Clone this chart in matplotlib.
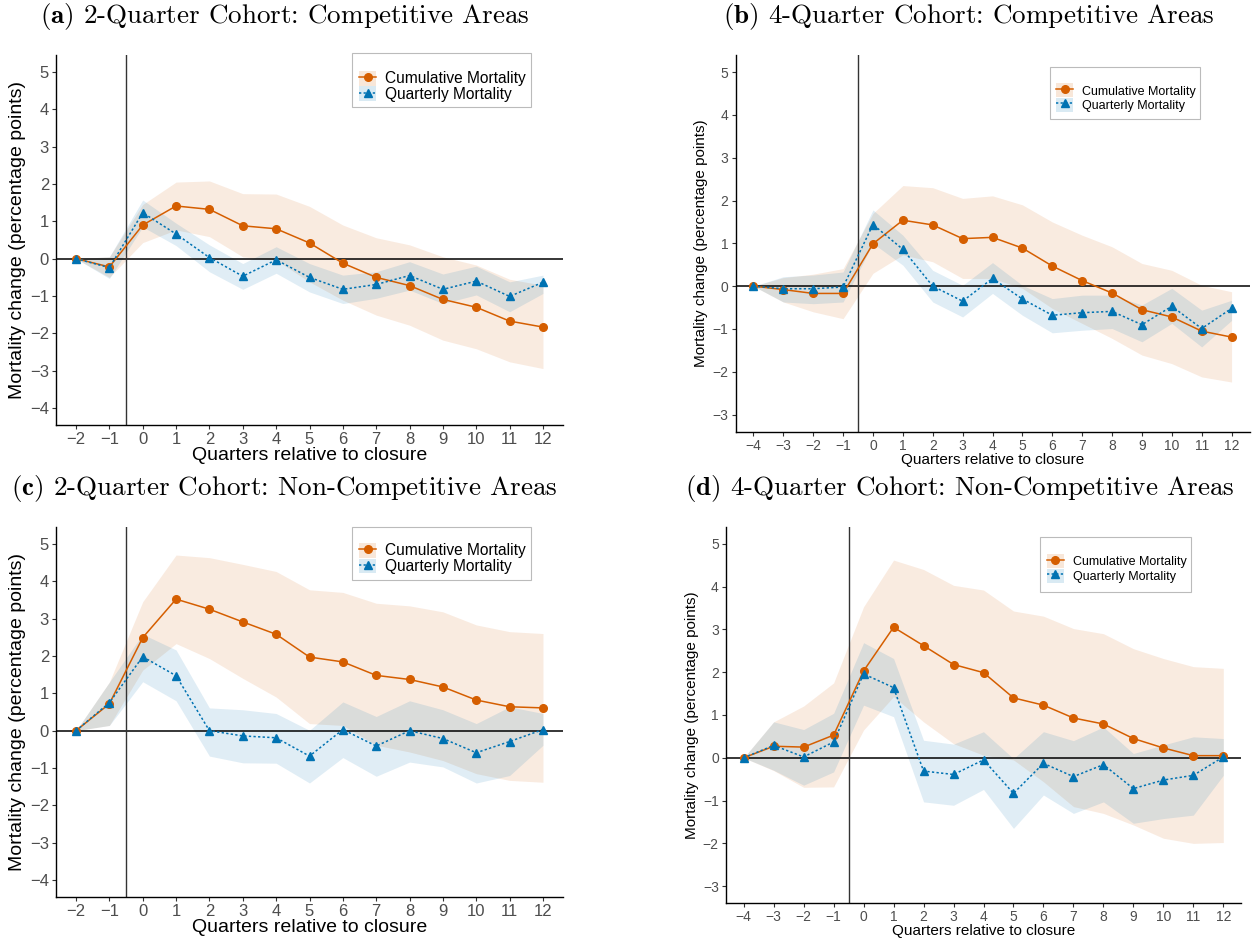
import matplotlib
matplotlib.use("Agg")
import matplotlib.pyplot as plt
from matplotlib.patches import Patch, Rectangle
from matplotlib.lines import Line2D

# --------- data -----------------------------------
x2 = [-2, -1, 0, 1, 2, 3, 4, 5, 6, 7, 8, 9, 10, 11, 12]
x4 = [-4, -3, -2, -1, 0, 1, 2, 3, 4, 5, 6, 7, 8, 9, 10, 11, 12]

# (a) 2-quarter cohort, competitive
cum_a    = [0, -0.22, 0.90, 1.41, 1.32, 0.88, 0.80, 0.42, -0.12, -0.50, -0.72, -1.09, -1.30, -1.67, -1.83]
cum_a_hi = [0, 0.05, 1.45, 2.05, 2.08, 1.74, 1.73, 1.40, 0.90, 0.56, 0.37, 0.05, -0.17, -0.55, -0.71]
cum_a_lo = [0, -0.50, 0.43, 0.77, 0.59, 0.05, -0.04, -0.62, -1.11, -1.51, -1.78, -2.18, -2.41, -2.76, -2.94]
qtr_a    = [0, -0.24, 1.23, 0.66, 0.03, -0.47, -0.03, -0.50, -0.82, -0.69, -0.45, -0.82, -0.60, -1.01, -0.63]
qtr_a_hi = [0, 0.05, 1.57, 0.95, 0.37, -0.13, 0.32, -0.13, -0.44, -0.35, -0.08, -0.41, -0.20, -0.62, -0.44]
qtr_a_lo = [0, -0.53, 0.85, 0.35, -0.35, -0.82, -0.39, -0.89, -1.20, -1.06, -0.84, -1.20, -0.97, -1.42, -0.93]

# (b) 4-quarter cohort, competitive
cum_b    = [0, -0.08, -0.17, -0.17, 0.99, 1.54, 1.43, 1.11, 1.14, 0.89, 0.47, 0.13, -0.16, -0.55, -0.72, -1.05, -1.19]
cum_b_hi = [0, 0.20, 0.28, 0.41, 1.70, 2.35, 2.30, 2.05, 2.11, 1.90, 1.50, 1.19, 0.92, 0.53, 0.37, 0.02, -0.13]
cum_b_lo = [0, -0.37, -0.60, -0.76, 0.30, 0.73, 0.57, 0.18, 0.18, -0.05, -0.52, -0.87, -1.22, -1.61, -1.81, -2.12, -2.24]
qtr_b    = [0, -0.06, -0.06, -0.02, 1.44, 0.86, 0.00, -0.35, 0.18, -0.30, -0.68, -0.62, -0.59, -0.90, -0.47, -0.99, -0.52]
qtr_b_hi = [0, 0.22, 0.26, 0.33, 1.78, 1.19, 0.37, 0.02, 0.55, 0.02, -0.29, -0.21, -0.21, -0.44, -0.05, -0.56, -0.33]
qtr_b_lo = [0, -0.37, -0.41, -0.37, 1.00, 0.49, -0.37, -0.72, -0.17, -0.68, -1.09, -1.03, -0.99, -1.30, -0.87, -1.42, -0.80]

# (c) 2-quarter cohort, non-competitive
cum_c    = [0, 0.72, 2.49, 3.52, 3.25, 2.91, 2.58, 1.97, 1.84, 1.48, 1.37, 1.17, 0.82, 0.64, 0.61]
cum_c_hi = [0, 1.30, 3.45, 4.70, 4.63, 4.45, 4.26, 3.77, 3.70, 3.41, 3.34, 3.18, 2.83, 2.65, 2.60]
cum_c_lo = [0, 0.14, 1.62, 2.33, 1.93, 1.40, 0.90, 0.19, 0.14, -0.39, -0.57, -0.80, -1.15, -1.33, -1.38]
qtr_c    = [0, 0.75, 1.98, 1.47, 0.00, -0.14, -0.19, -0.68, 0.03, -0.41, 0.00, -0.21, -0.59, -0.29, 0.03]
qtr_c_hi = [0, 1.30, 2.58, 2.16, 0.61, 0.56, 0.46, 0.01, 0.77, 0.38, 0.80, 0.56, 0.19, 0.64, 0.46]
qtr_c_lo = [0, 0.14, 1.31, 0.80, -0.68, -0.86, -0.87, -1.40, -0.72, -1.22, -0.84, -0.97, -1.40, -1.20, -0.39]

# (d) 4-quarter cohort, non-competitive
cum_d    = [0, 0.27, 0.25, 0.53, 2.03, 3.05, 2.62, 2.18, 1.99, 1.40, 1.23, 0.93, 0.79, 0.45, 0.23, 0.05, 0.05]
cum_d_hi = [0, 0.84, 1.21, 1.75, 3.53, 4.62, 4.40, 4.03, 3.92, 3.43, 3.31, 3.02, 2.90, 2.55, 2.32, 2.13, 2.09]
cum_d_lo = [0, -0.30, -0.69, -0.68, 0.65, 1.43, 0.84, 0.33, 0.06, -0.05, -0.56, -1.14, -1.30, -1.57, -1.88, -2.00, -1.98]
qtr_d    = [0, 0.29, 0.02, 0.37, 1.96, 1.64, -0.31, -0.39, -0.05, -0.83, -0.13, -0.44, -0.16, -0.72, -0.52, -0.41, 0.02]
qtr_d_hi = [0, 0.84, 0.66, 1.04, 2.69, 2.32, 0.41, 0.32, 0.61, -0.02, 0.61, 0.40, 0.72, 0.10, 0.30, 0.49, 0.45]
qtr_d_lo = [0, -0.29, -0.64, -0.33, 1.23, 0.96, -1.03, -1.11, -0.74, -1.65, -0.87, -1.30, -1.03, -1.53, -1.42, -1.34, -0.41]

titles = ["2-Quarter Cohort: Competitive Areas", "4-Quarter Cohort: Competitive Areas",
          "2-Quarter Cohort: Non-Competitive Areas", "4-Quarter Cohort: Non-Competitive Areas"]
letters = ["a", "b", "c", "d"]
labels = ["Cumulative Mortality", "Quarterly Mortality"]

ORANGE = "#D55E00"
BLUE = "#0072B2"
W, H = 1253, 940

plt.rcParams["mathtext.fontset"] = "cm"
fig = plt.figure(figsize=(W / 100, H / 100), dpi=100)


def px_axes(l, t, r, b):
    # pixel box -> figure fraction
    return fig.add_axes([l / W, 1 - b / H, (r - l) / W, (b - t) / H])


def minus(v):
    return str(v).replace("-", "\u2212")


def panel(ax, xs, cum, cum_lo, cum_hi, qtr, qtr_lo, qtr_hi, ymin, big):
    fs_tick = 12 if big else 10
    fs_lab = 14 if big else 11
    ax.fill_between(xs, cum_lo, cum_hi, color=ORANGE, alpha=0.12, lw=0)
    ax.fill_between(xs, qtr_lo, qtr_hi, color=BLUE, alpha=0.12, lw=0)
    ax.axhline(0, color="black", lw=1.1)
    ax.axvline(-0.5, color="#333333", lw=1.0)
    ax.plot(xs, cum, color=ORANGE, lw=1.1, marker="o", ms=5.5)
    ax.plot(xs, qtr, color=BLUE, lw=1.1, ls=(0, (1.5, 1.5)), marker="^", ms=6)
    ax.set_xlim(xs[0] - 0.6, xs[-1] + 0.6)
    ax.set_ylim(ymin - 0.05 * (5 - ymin), 5 + 0.05 * (5 - ymin))
    yt = list(range(ymin, 6))
    ax.set_xticks(xs)
    ax.set_xticklabels([minus(v) for v in xs])
    ax.set_yticks(yt)
    ax.set_yticklabels([minus(v) for v in yt])
    ax.tick_params(labelsize=fs_tick, labelcolor="#4D4D4D", color="#333333",
                   length=3, width=0.8, pad=2)
    for s in ["top", "right"]:
        ax.spines[s].set_visible(False)
    for s in ["left", "bottom"]:
        ax.spines[s].set_linewidth(1.0)
    ax.set_xlabel("Quarters relative to closure", fontsize=fs_lab, labelpad=0)
    ax.set_ylabel("Mortality change (percentage points)", fontsize=fs_lab, labelpad=3)


plt.rcParams["font.family"] = ["Liberation Sans", "DejaVu Sans"]

ax_a = px_axes(56, 55, 563, 425)
ax_b = px_axes(735.5, 55, 1249.5, 431.7)
ax_c = px_axes(56, 527, 563, 897)
ax_d = px_axes(725.7, 526.7, 1241.3, 903.3)

panel(ax_a, x2, cum_a, cum_a_lo, cum_a_hi, qtr_a, qtr_a_lo, qtr_a_hi, -4, True)
panel(ax_b, x4, cum_b, cum_b_lo, cum_b_hi, qtr_b, qtr_b_lo, qtr_b_hi, -3, False)
panel(ax_c, x2, cum_c, cum_c_lo, cum_c_hi, qtr_c, qtr_c_lo, qtr_c_hi, -4, True)
panel(ax_d, x4, cum_d, cum_d_lo, cum_d_hi, qtr_d, qtr_d_lo, qtr_d_hi, -3, False)

# titles (serif, bold panel letter)
title_pos = [(285, 17), (969, 17), (284, 489), (960, 489)]
for (tx, ty), let, tt in zip(title_pos, letters, titles):
    fig.text(tx / W, 1 - ty / H, r"$\mathbf{(" + let + r")}$ " + tt,
             family="cmr10", fontsize=19.5, ha="center", va="center")

# legends: frame box + keys
leg_boxes = [(352, 53, 531, 107), (1050, 67, 1200, 119), (352, 527, 531, 580), (1040, 537, 1191, 592)]
leg_anchor = [(359, 86.5, 11.2), (1056, 97.5, 9), (359, 558.5, 11.2), (1046.7, 568.5, 9)]
for ax, (l, t, r, b), (hx, hy, fs) in zip([ax_a, ax_b, ax_c, ax_d], leg_boxes, leg_anchor):
    fig.patches.append(Rectangle((l / W, 1 - b / H), (r - l) / W, (b - t) / H,
                                 transform=fig.transFigure, fill=False,
                                 ec="#BBBBBB", lw=0.8))
    h_o = (Patch(fc=ORANGE, alpha=0.15, lw=0),
           Line2D([], [], color=ORANGE, lw=1.1, marker="o", ms=5.5))
    h_b = (Patch(fc=BLUE, alpha=0.15, lw=0),
           Line2D([], [], color=BLUE, lw=1.1, ls=(0, (1.5, 1.5)), marker="^", ms=6))
    fpx = fs / 0.72
    ax.legend([h_o, h_b], labels, loc="center left",
              bbox_to_anchor=(hx / W, 1 - hy / H), bbox_transform=fig.transFigure,
              frameon=False, fontsize=fs, borderpad=0, borderaxespad=0,
              handlelength=17 / fpx, handleheight=17 / fpx, labelspacing=0,
              handletextpad=9 / fpx)

fig.savefig("out.png", dpi=100)
